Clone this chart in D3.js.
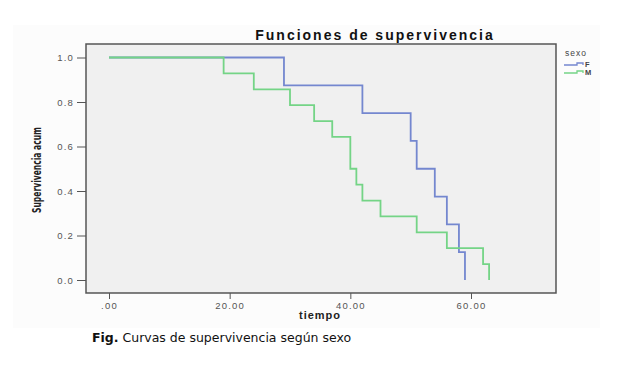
<!DOCTYPE html>
<meta charset="utf-8">
<title>Funciones de supervivencia</title>
<style>
    body { margin: 0; background: #fff; }
    svg { display: block; }
    .tick text { font-family: "Liberation Sans", Arial, sans-serif; font-size: 9.5px; fill: #555; letter-spacing: 1.2px; }
    .tick line { stroke: #555; }
    .domain { display: none; }
</style>
<body>
<div id="chart"></div>
<script src="https://cdnjs.cloudflare.com/ajax/libs/d3/7.8.5/d3.min.js"></script>
<script>
// data
var xTicks = [0, 20, 40, 60];
var xTickLabels = [".00", "20.00", "40.00", "60.00"];
var yTicks = [0, 0.2, 0.4, 0.6, 0.8, 1.0];
var yTickLabels = ["0.0", "0.2", "0.4", "0.6", "0.8", "1.0"];

var groups = ["F", "M"];
var fTimes = [0, 29, 42, 50, 51, 54, 56, 58, 59];
var fSurv = [1, 0.875, 0.75, 0.625, 0.5, 0.375, 0.25, 0.125, 0];
var mTimes = [0, 19, 24, 30, 34, 37, 40, 41, 42, 45, 51, 56, 62, 63];
var mSurv = [1, 0.929, 0.857, 0.786, 0.714, 0.643, 0.5, 0.429, 0.357, 0.286, 0.214, 0.143, 0.071, 0];

var colors = { F: "#7487cf", M: "#74d486" };

var width = 640, height = 371;
var frame = { left: 86, right: 556, top: 44, bottom: 293 };

var x = d3.scaleLinear().domain([0, 60]).range([109, 471]);
var y = d3.scaleLinear().domain([0, 1]).range([280, 57.5]);

var svg = d3.select("#chart").append("svg")
    .attr("width", width)
    .attr("height", height);

// faint outer chart area
svg.append("rect")
    .attr("x", 13).attr("y", 25)
    .attr("width", 587).attr("height", 303)
    .attr("fill", "#fcfcfc");

// plot frame
svg.append("rect")
    .attr("x", frame.left).attr("y", frame.top)
    .attr("width", frame.right - frame.left)
    .attr("height", frame.bottom - frame.top)
    .attr("fill", "#f0f0f0")
    .attr("stroke", "#555")
    .attr("stroke-width", 1.5);

// title
svg.append("text")
    .attr("x", 375).attr("y", 40)
    .attr("text-anchor", "middle")
    .attr("font-family", "Liberation Sans, Arial, sans-serif")
    .attr("font-size", "14px")
    .attr("font-weight", "bold")
    .attr("letter-spacing", "2px")
    .attr("fill", "#111")
    .text("Funciones de supervivencia");

// axes
var xAxis = d3.axisBottom(x)
    .tickValues(xTicks)
    .tickSize(6)
    .tickPadding(3)
    .tickFormat(function (d, i) { return xTickLabels[i]; });
svg.append("g")
    .attr("transform", "translate(0," + frame.bottom + ")")
    .call(xAxis);

var yAxis = d3.axisLeft(y)
    .tickValues(yTicks)
    .tickSize(9)
    .tickPadding(3)
    .tickFormat(function (d, i) { return yTickLabels[i]; });
svg.append("g")
    .attr("transform", "translate(" + frame.left + ",0)")
    .call(yAxis);

// axis titles
svg.append("text")
    .attr("x", 320).attr("y", 319)
    .attr("text-anchor", "middle")
    .attr("font-family", "Liberation Sans, Arial, sans-serif")
    .attr("font-size", "11px")
    .attr("font-weight", "bold")
    .attr("letter-spacing", "1px")
    .attr("fill", "#222")
    .text("tiempo");

svg.append("text")
    .attr("transform", "translate(41,170) rotate(-90)")
    .attr("text-anchor", "middle")
    .attr("font-family", "Liberation Sans Narrow, DejaVu Sans Condensed, sans-serif")
    .attr("font-size", "13px")
    .attr("font-weight", "bold")
    .attr("textLength", 86)
    .attr("lengthAdjust", "spacingAndGlyphs")
    .attr("fill", "#222")
    .text("Supervivencia acum");

// survival curves
var line = d3.line()
    .x(function (d) { return x(d.t); })
    .y(function (d) { return y(d.s); })
    .curve(d3.curveStepAfter);

var series = [
    { key: "F", data: fTimes.map(function (t, i) { return { t: t, s: fSurv[i] }; }) },
    { key: "M", data: mTimes.map(function (t, i) { return { t: t, s: mSurv[i] }; }) }
];

series.forEach(function (s) {
    svg.append("path")
        .datum(s.data)
        .attr("fill", "none")
        .attr("stroke", colors[s.key])
        .attr("stroke-width", 1.8)
        .attr("d", line);
});

// legend
var legend = svg.append("g").attr("transform", "translate(564,0)");
legend.append("text")
    .attr("x", 1).attr("y", 56)
    .attr("font-family", "Liberation Sans, Arial, sans-serif")
    .attr("font-size", "8.5px")
    .attr("letter-spacing", "1px")
    .attr("fill", "#444")
    .text("sexo");

groups.forEach(function (g, i) {
    var yy = 65 + i * 8;
    legend.append("path")
        .attr("d", "M0," + yy + "H13V" + (yy - 2) + "H19V" + yy)
        .attr("fill", "none")
        .attr("stroke", colors[g])
        .attr("stroke-width", 1.3);
    legend.append("text")
        .attr("x", 21).attr("y", yy + 1.5)
        .attr("font-family", "Liberation Sans, Arial, sans-serif")
        .attr("font-size", "7.5px")
        .attr("font-weight", "bold")
        .attr("fill", "#444")
        .text(g);
});

// caption
var cap = svg.append("text")
    .attr("x", 92).attr("y", 342)
    .attr("font-family", "DejaVu Sans, Verdana, sans-serif")
    .attr("font-size", "12.5px")
    .attr("fill", "#111");
cap.append("tspan").attr("font-weight", "bold").text("Fig.");
cap.append("tspan").text(" Curvas de supervivencia según sexo");
</script>
</body>
